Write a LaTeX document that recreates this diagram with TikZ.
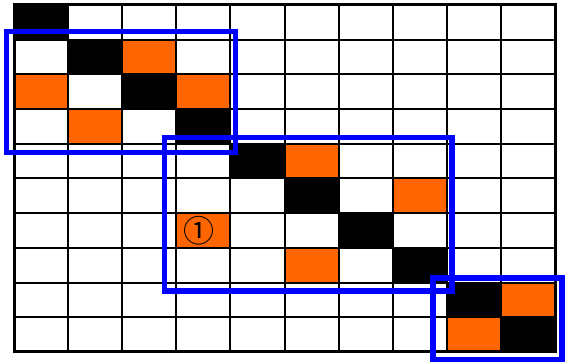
\documentclass[tikz,border=0pt]{standalone}
\usepackage{fontspec}
\newfontfamily\symfont{Noto Sans CJK SC}
\usepackage{xcolor}
\usepackage{tikz}
\definecolor{hotorange}{HTML}{FF6600}
\definecolor{boxblue}{HTML}{0000FF}

\begin{document}
\begin{tikzpicture}[
  x=27.05pt, y=-17.35pt,
  darkcell/.style={fill=black},
  hotcell/.style={fill=hotorange},
  gridline/.style={line width=1pt},
  blockbox/.style={draw=boxblue, line width=2.6pt},
  cell_label/.style={font=\symfont\fontsize{15.5}{15.5}\selectfont, inner sep=0pt}
]
  \useasboundingbox (-0.259,-0.144) rectangle (10.185,10.317);

  % Diagonal (black) cells
  \foreach \i in {0,...,9} {
    \fill[darkcell] (\i,\i) rectangle ++(1,1);
  }

  % Off-diagonal (orange) cells
  \foreach \c/\r in {2/1, 0/2, 3/2, 1/3, 5/4, 7/5, 3/6, 5/7, 9/8, 8/9} {
    \fill[hotcell] (\c,\r) rectangle ++(1,1);
  }
  \node[cell_label] (mark) at (3.42,6.5) {①};

  % Grid lines
  \foreach \i in {1,...,9} {
    \draw[gridline] (\i,0) -- (\i,10);
    \draw[gridline] (0,\i) -- (10,\i);
  }
  \draw[line width=1.5pt] (0,0) rectangle (10,10);

  % Blocks
  \draw[blockbox] (-0.139,0.764) rectangle (4.094,4.251);
  \draw[blockbox] (2.782,3.818) rectangle (8.096,8.242);
  \draw[blockbox] (7.745,7.867) rectangle (10.13,10.216);

\end{tikzpicture}
\end{document}
